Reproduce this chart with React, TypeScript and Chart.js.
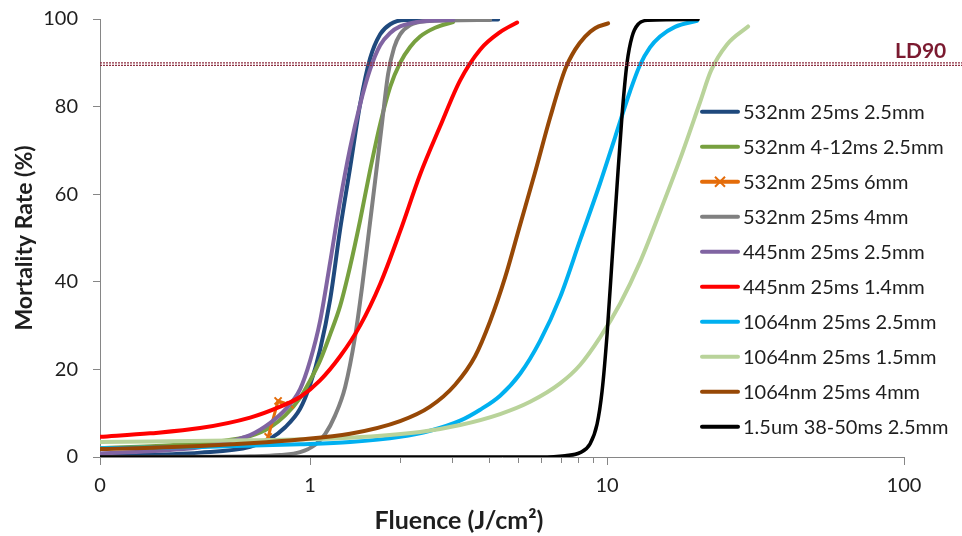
import React, { useEffect, useRef } from "react";
import { Chart, registerables } from "chart.js";

Chart.register(...registerables);

// ---------- axes ----------
const xMin = 0.196;
const xMax = 100;
const xTickValues = [0.196, 1, 10, 100];
const xTickLabels = ["0", "1", "10", "100"];
const xMinorTickValues = [2, 3, 4, 5, 6, 7, 8, 9];
const yMin = 0;
const yMax = 100;
const yStep = 20;
const ld90Value = 89.7;
const ld90Label = "LD90";
const xTitle = "Fluence (J/cm²)";
const yTitle = "Mortality Rate (%)";

// ---------- series ----------
const seriesNames = [
  "532nm 25ms 2.5mm",
  "532nm 4-12ms 2.5mm",
  "532nm 25ms 6mm",
  "532nm 25ms 4mm",
  "445nm 25ms 2.5mm",
  "445nm 25ms 1.4mm",
  "1064nm 25ms 2.5mm",
  "1064nm 25ms 1.5mm",
  "1064nm 25ms 4mm",
  "1.5um 38-50ms 2.5mm",
];

const s1Fluence = [0.196, 0.426, 0.628, 0.734, 0.824, 0.925, 1.0, 1.08, 1.168, 1.262, 1.363, 1.473, 1.592, 1.721, 1.86, 2.089, 4.295];
const s1Mortality = [0.3, 1.0, 2.3, 4.2, 6.8, 11, 16.5, 24.5, 36, 52, 66, 80.5, 91, 96.5, 98.8, 99.8, 99.9];

const s2Fluence = [0.196, 0.338, 0.498, 0.628, 0.734, 0.824, 0.925, 1.0, 1.08, 1.168, 1.262, 1.363, 1.473, 1.592, 1.721, 1.86, 2.009, 2.171, 2.346, 2.636, 3.03];
const s2Mortality = [2, 2.7, 3.6, 4.8, 6.8, 9.5, 13.5, 17.5, 22, 28, 34.5, 43.5, 54, 65.5, 76, 84.5, 90, 93.6, 96, 98, 99.3];

const s3Fluence = [0.722, 0.78, 0.856];
const s3Mortality = [4.6, 12.8, 11.9];

const s4Fluence = [0.196, 0.426, 0.628, 0.793, 0.925, 1.04, 1.123, 1.214, 1.312, 1.417, 1.497, 1.568, 1.655, 1.748, 1.831, 1.918, 2.009, 2.171, 2.439, 4.037];
const s4Mortality = [0, 0.05, 0.15, 0.45, 1.1, 2.8, 5.2, 9.5, 16, 27.5, 39, 50, 63, 76.5, 87.5, 93.5, 96.5, 98.6, 99.5, 99.8];

const s5Fluence = [0.196, 0.289, 0.426, 0.55, 0.628, 0.734, 0.824, 0.925, 1.0, 1.08, 1.168, 1.262, 1.363, 1.473, 1.592, 1.721, 1.86, 2.009, 2.346, 3.03];
const s5Mortality = [0.8, 1.3, 2.2, 3.8, 5, 7.8, 10.8, 15.5, 22, 31, 44.5, 58.5, 70.5, 80.5, 88.5, 94, 96.8, 98.3, 99.4, 99.8];

const s6Fluence = [0.196, 0.289, 0.426, 0.628, 0.793, 0.925, 1.08, 1.262, 1.473, 1.721, 2.009, 2.346, 2.74, 3.2, 3.736, 4.363, 4.977];
const s6Mortality = [4.6, 5.4, 6.6, 9.0, 11.5, 13.7, 17.5, 23, 30, 39.5, 51.5, 64.5, 75.5, 86, 93, 97, 99.2];

const s7Fluence = [0.196, 0.426, 0.925, 1.363, 2.009, 2.535, 3.2, 3.736, 4.363, 5.094, 5.949, 6.948, 8.111, 9.471, 10.64, 11.95, 12.91, 13.95, 15.08, 16.94, 20.09];
const s7Mortality = [2.0, 2.3, 2.9, 3.4, 4.6, 6.0, 8.3, 10.8, 14, 19, 26.5, 36.5, 49.5, 62.5, 73, 83.5, 89.5, 93.5, 96, 98.2, 99.6];

const s8Fluence = [0.196, 0.628, 1.363, 2.346, 3.2, 4.363, 5.506, 6.948, 8.111, 9.471, 11.06, 12.91, 15.08, 17.61, 20.56, 22.39, 25.35, 29.84];
const s8Mortality = [3.4, 3.8, 4.4, 5.7, 7.3, 9.8, 12.6, 16.8, 21, 27.3, 35, 44.5, 56, 68, 81, 88.2, 94.2, 98.3];

const s9Fluence = [0.196, 0.426, 0.925, 1.363, 2.009, 2.535, 3.078, 3.594, 4.037, 4.535, 5.094, 5.723, 6.43, 7.223, 7.804, 8.432, 9.111, 10.078];
const s9Mortality = [1.8, 2.5, 4.0, 5.3, 8.2, 11.5, 16.5, 23, 31, 41, 53, 65, 77.5, 88.5, 93, 96, 97.9, 99];

const s10Fluence = [0.196, 5.949, 7.223, 8.111, 8.765, 9.254, 9.619, 10.0, 10.395, 10.806, 11.23, 11.676, 12.14, 12.72, 13.74, 20.25];
const s10Mortality = [0, 0, 0.3, 1.0, 3.0, 7.5, 15, 28, 45, 62, 78, 90, 96, 98.8, 99.7, 99.9];

const seriesFluence = [s1Fluence, s2Fluence, s3Fluence, s4Fluence, s5Fluence, s6Fluence, s7Fluence, s8Fluence, s9Fluence, s10Fluence];
const seriesMortality = [s1Mortality, s2Mortality, s3Mortality, s4Mortality, s5Mortality, s6Mortality, s7Mortality, s8Mortality, s9Mortality, s10Mortality];

// ---------- styles ----------
const seriesColors = ["#1F497D", "#77A03F", "#E46C0A", "#808080", "#8064A2", "#FF0000", "#00B0F0", "#B9D39A", "#974806", "#000000"];
const FONT = "Lato, 'Open Sans', sans-serif";
const TEXT = "#1e1e1e";
const AXIS = "#868686";

const overlayPlugin = {
  id: "overlay",
  afterDatasetsDraw(chart: any) {
    const { ctx, chartArea, scales } = chart;
    const yPix = scales.y.getPixelForValue(ld90Value);
    ctx.save();
    ctx.strokeStyle = "#8e2f42";
    ctx.lineWidth = 1.2;
    ctx.setLineDash([2, 1]);
    for (const off of [-1.3, 1.3]) {
      ctx.beginPath();
      ctx.moveTo(chartArea.left, yPix + off);
      ctx.lineTo(chart.width, yPix + off);
      ctx.stroke();
    }
    ctx.restore();
  },
  afterDraw(chart: any) {
    const { ctx, chartArea, scales } = chart;
    ctx.save();
    // minor ticks on x axis
    ctx.strokeStyle = AXIS;
    ctx.lineWidth = 1;
    for (const v of xMinorTickValues) {
      const px = Math.round(scales.x.getPixelForValue(v)) + 0.5;
      ctx.beginPath();
      ctx.moveTo(px, chartArea.bottom);
      ctx.lineTo(px, chartArea.bottom + 6);
      ctx.stroke();
    }
    // LD90 label
    const yPix = scales.y.getPixelForValue(ld90Value);
    ctx.fillStyle = "#7b1a30";
    ctx.font = `bold 21px ${FONT}`;
    ctx.textAlign = "left";
    ctx.textBaseline = "middle";
    ctx.fillText(ld90Label, 895, yPix - 13);

    // legend
    for (let i = 0; i < seriesNames.length; i++) {
      const y = 111.7 + 35 * i;
      ctx.strokeStyle = seriesColors[i];
      ctx.lineWidth = 4;
      ctx.lineCap = "round";
      ctx.beginPath();
      ctx.moveTo(702, y);
      ctx.lineTo(738, y);
      ctx.stroke();
      if (i === 2) {
        ctx.lineWidth = 2;
        ctx.lineCap = "butt";
        const c = 720, r = 5;
        ctx.beginPath();
        ctx.moveTo(c - r, y - r);
        ctx.lineTo(c + r, y + r);
        ctx.moveTo(c - r, y + r);
        ctx.lineTo(c + r, y - r);
        ctx.stroke();
      }
      ctx.fillStyle = TEXT;
      ctx.font = `20px ${FONT}`;
      ctx.textAlign = "left";
      ctx.textBaseline = "middle";
      ctx.fillText(seriesNames[i], 743, y + 1);
    }

    // axis titles
    ctx.fillStyle = TEXT;
    ctx.textAlign = "center";
    ctx.textBaseline = "middle";
    ctx.font = `bold 25px ${FONT}`;
    ctx.fillText(xTitle, 459, 521);
    ctx.font = `bold 23px ${FONT}`;
    ctx.translate(25, 238);
    ctx.rotate(-Math.PI / 2);
    ctx.fillText(yTitle, 0, 0);
    ctx.restore();
  },
};

export default function App() {
  const canvasRef = useRef<HTMLCanvasElement | null>(null);

  useEffect(() => {
    const canvas = canvasRef.current;
    if (!canvas) return;
    const datasets = seriesNames.map((name, i) => ({
      label: name,
      data: seriesFluence[i].map((f, j) => ({ x: f, y: seriesMortality[i][j] })),
      borderColor: seriesColors[i],
      backgroundColor: seriesColors[i],
      borderWidth: i === 2 ? 3 : i === 9 ? 3.5 : 4,
      pointRadius: i === 2 ? 5 : 0,
      pointStyle: "crossRot",
      pointBorderWidth: 2,
      pointBorderColor: seriesColors[i],
      cubicInterpolationMode: i === 2 ? "default" : "monotone",
      tension: 0,
      borderCapStyle: "round",
      borderJoinStyle: "round",
      fill: false,
      order: seriesNames.length - i,
    }));

    const chart = new Chart(canvas, {
      type: "line",
      data: { datasets } as any,
      options: {
        responsive: false,
        animation: false,
        devicePixelRatio: 1,
        layout: { padding: { top: 19, right: 58, bottom: 0, left: 0 } },
        plugins: { legend: { display: false }, tooltip: { enabled: false } },
        scales: {
          x: {
            type: "logarithmic",
            min: xMin,
            max: xMax,
            bounds: "data",
            afterBuildTicks: (s: any) => {
              s.ticks = xTickValues.map((v) => ({ value: v, major: true }));
            },
            afterFit: (s: any) => {
              s.height = 79;
              s.paddingLeft = 0;
              s.paddingRight = 0;
            },
            ticks: {
              autoSkip: false,
              maxRotation: 0,
              padding: 9,
              color: TEXT,
              font: { family: FONT, size: 20 },
              callback: (_v: any, i: number) => xTickLabels[i],
            },
            grid: { drawOnChartArea: false, drawTicks: true, tickLength: 8, color: AXIS },
            border: { display: true, color: AXIS, width: 1 },
          },
          y: {
            type: "linear",
            min: yMin,
            max: yMax,
            afterFit: (s: any) => {
              s.width = 100;
              s.paddingTop = 0;
              s.paddingBottom = 0;
            },
            ticks: {
              stepSize: yStep,
              padding: 15,
              color: TEXT,
              font: { family: FONT, size: 20 },
            },
            grid: { drawOnChartArea: false, drawTicks: true, tickLength: 7, color: AXIS },
            border: { display: true, color: AXIS, width: 1 },
          },
        },
      } as any,
      plugins: [overlayPlugin],
    });
    return () => chart.destroy();
  }, []);

  return (
    <div style={{ position: "fixed", left: 0, top: 0, width: 962, height: 536, background: "#fff" }}>
      <canvas ref={canvasRef} width={962} height={536} style={{ width: 962, height: 536, display: "block" }} />
    </div>
  );
}
